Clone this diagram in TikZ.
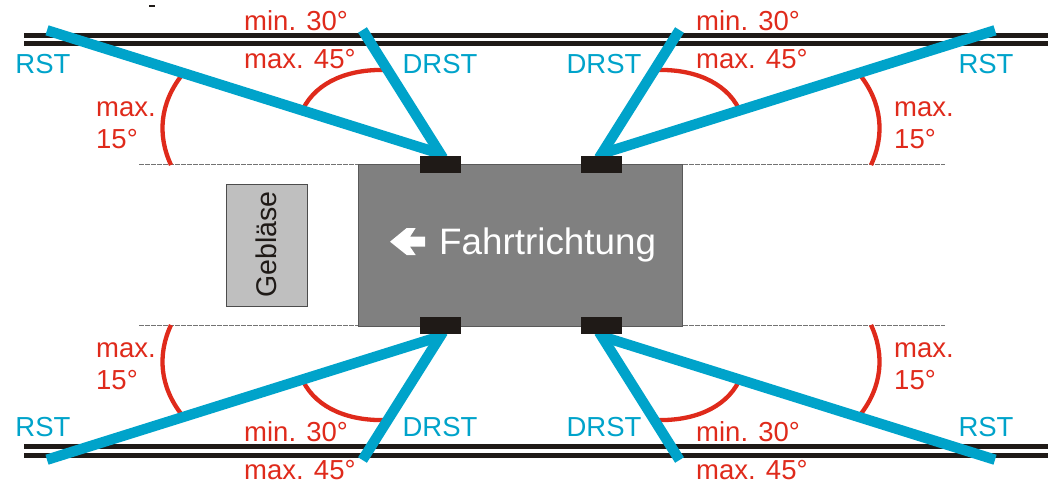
\documentclass[tikz,border=0pt]{standalone}
\usepackage{fontspec}
\setmainfont{Liberation Sans}
\definecolor{rb}{HTML}{00A3CA}
\definecolor{rd}{HTML}{DF2A1B}
\definecolor{bk}{HTML}{1F1A17}
\tikzset{
 rail/.style={fill=bk,draw=none},
 beam/.style={draw=rb,line width=10.4pt},
 angarc/.style={draw=rd,line width=4.3pt},
 pad/.style={fill=bk,draw=none},
 refl/.style={draw=black!55,line width=0.7pt,dash pattern=on 5pt off 1pt},
 redt/.style={text=rd,font=\fontsize{27.5}{33}\selectfont,anchor=west,inner sep=0pt},
 blut/.style={text=rb,font=\fontsize{27.5}{33}\selectfont,inner sep=0pt},
}
\begin{document}
\begin{tikzpicture}[x=1pt,y=-1pt]
\useasboundingbox (0,0) rectangle (1048,483);
\fill[bk] (149,5) rectangle (155,7);
% rails
\fill[rail] (24,33.3) rectangle (1048,38.3);
\fill[rail] (24,40.8) rectangle (1048,46);
\fill[rail] (24,444.3) rectangle (1048,449.3);
\fill[rail] (24,452.7) rectangle (1048,457.7);
% reference lines
\draw[refl] (139,164.5) -- (359,164.5);
\draw[refl] (683,164.5) -- (945,164.5);
\draw[refl] (139,325.5) -- (359,325.5);
\draw[refl] (683,325.5) -- (945,325.5);
% blower and vehicle
\node[draw=black!70,fill=black!25,line width=0.7pt,minimum width=81pt,minimum height=122pt,inner sep=0pt] (geb) at (266.5,245) {};
\node[rotate=90,font=\fontsize{28.5}{34}\selectfont,inner sep=0pt,text=bk] (gebtxt) at (266.5,244.5) {Gebläse};
\node[draw=black!65,fill=black!50,line width=0.7pt,minimum width=324pt,minimum height=162pt,inner sep=0pt] (car) at (520.5,245) {};
\fill[white] (390,241.7) -- (406.7,228) -- (415.7,228) -- (410,236.7) -- (425,236.7) -- (425,246.7) -- (410,246.7) -- (415.7,255) -- (406.7,255) -- cycle;
\node[text=white,font=\fontsize{36.8}{44}\selectfont,inner sep=0pt,anchor=west] (fahrt) at (439,245) {Fahrtrichtung};
% four corners, mirrored
\foreach \sx/\sy in {1/1,-1/1,1/-1,-1/-1}{
\begin{scope}[shift={(521,245)},xscale=\sx,yscale=\sy,shift={(-521,-245)}]
 \draw[angarc] (171,165) .. controls (157,135) and (160,103) .. (182,75);
 \draw[angarc] (303,109) .. controls (317,81) and (350,69) .. (385,70);
 \coordinate (rstend) at (47,30.3);
 \coordinate (rsthub) at (440,153.6);
 \coordinate (drstend) at (362.5,30);
 \coordinate (drsthub) at (443,158);
 \draw[beam] (rstend) -- (rsthub);
 \draw[beam] (drstend) -- (drsthub);
 \fill[pad] (420,155.8) rectangle (461,172.8);
\end{scope}}
% labels
\node[blut] at (43,64) {RST};
\node[blut] at (440,64) {DRST};
\node[blut] at (604,64) {DRST};
\node[blut] at (986,64) {RST};
\node[blut] at (43,427) {RST};
\node[blut] at (440,427) {DRST};
\node[blut] at (604,427) {DRST};
\node[blut] at (986,427) {RST};
\node[redt] at (244,21) {min. 30°};
\node[redt] at (244,59) {max. 45°};
\node[redt] at (696,21) {min. 30°};
\node[redt] at (696,59) {max. 45°};
\node[redt] at (244,432) {min. 30°};
\node[redt] at (244,470) {max. 45°};
\node[redt] at (696,432) {min. 30°};
\node[redt] at (696,470) {max. 45°};
\node[redt] at (96,109) {max.};
\node[redt] at (96,139) {15°};
\node[redt] at (894,109) {max.};
\node[redt] at (894,139) {15°};
\node[redt] at (96,350) {max.};
\node[redt] at (96,380) {15°};
\node[redt] at (894,350) {max.};
\node[redt] at (894,380) {15°};
\end{tikzpicture}
\end{document}
